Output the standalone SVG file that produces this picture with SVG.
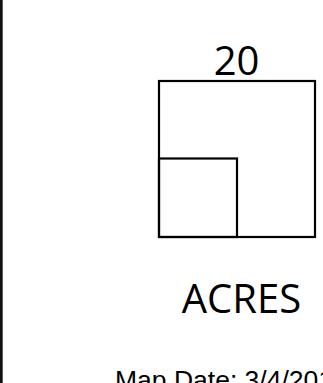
<svg xmlns="http://www.w3.org/2000/svg" width="323" height="383" viewBox="0 0 323 383">
<style>
.ln{fill:none;stroke:#000;stroke-width:2.2}
.big{font-family:"Open Sans","Noto Sans",sans-serif;font-size:40px;fill:#000;text-anchor:middle}
.small{font-family:"Liberation Sans",Arial,sans-serif;font-size:26.5px;fill:#000}
</style>
<rect x="0" y="0" width="323" height="383" fill="#fff"/>
<rect id="edge" x="0" y="0" width="2.7" height="383" fill="#111"/>
<g id="scale">
<rect class="ln" x="159" y="81" width="156" height="156"/>
<rect class="ln" x="159" y="158.5" width="78" height="78.5"/>
<text class="big" x="236.5" y="75">20</text>
</g>
<text id="acres" class="big" x="241.5" y="313">ACRES</text>
<text id="mapdate" class="small" x="115" y="389">Map Date: 3/4/201</text>
</svg>
